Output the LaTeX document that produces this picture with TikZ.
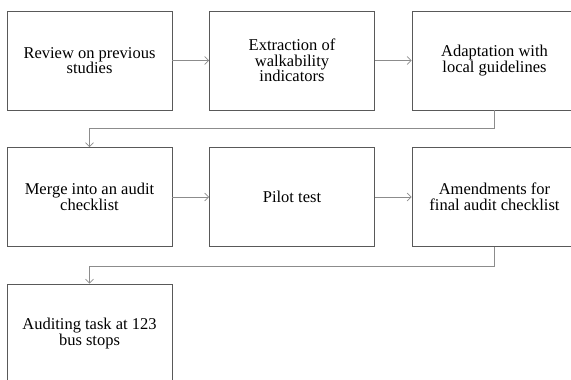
\documentclass[tikz,border=0pt]{standalone}
\usepackage{fontspec}
\setmainfont{Liberation Serif}
\usetikzlibrary{arrows.meta,positioning}

\begin{document}
\begin{tikzpicture}[%
>={Straight Barb[length=4pt,width=8pt]},
x=1pt, y=1pt,
node distance=136.5pt and 202.5pt,
on grid,
stage/.style={draw=black!65, line width=0.9pt, minimum width=165pt,
  minimum height=99pt, inner sep=0pt, align=center,
  font=\fontsize{16.5}{15.7}\selectfont},
link/.style={->, draw=black!45, line width=0.7pt}
]
\useasboundingbox (0,0) rectangle (571,-380);

\node[stage] (review) at (89.5,-60.5) {Review on previous\\studies};
\node[stage] (extract) [right=of review] {Extraction of\\walkability\\indicators};
\node[stage] (adapt) [right=of extract] {Adaptation with\\local guidelines};
\node[stage] (merge) [below=of review] {Merge into an audit\\checklist};
\node[stage] (pilot) [right=of merge] {Pilot test};
\node[stage] (amend) [right=of pilot] {Amendments for\\final audit checklist};
\node[stage] (audit) [below=of merge] {Auditing task at 123\\bus stops};

% first row
\path (review) edge [link] (extract);
\path (extract) edge [link] (adapt);
\draw[link] (adapt.south) -- ++(0,-18) -| (merge.north);

% second row
\path (merge) edge [link] (pilot);
\path (pilot) edge [link] (amend);
\draw[link] (amend.south) -- ++(0,-19) -| (audit.north);
\end{tikzpicture}
\end{document}
